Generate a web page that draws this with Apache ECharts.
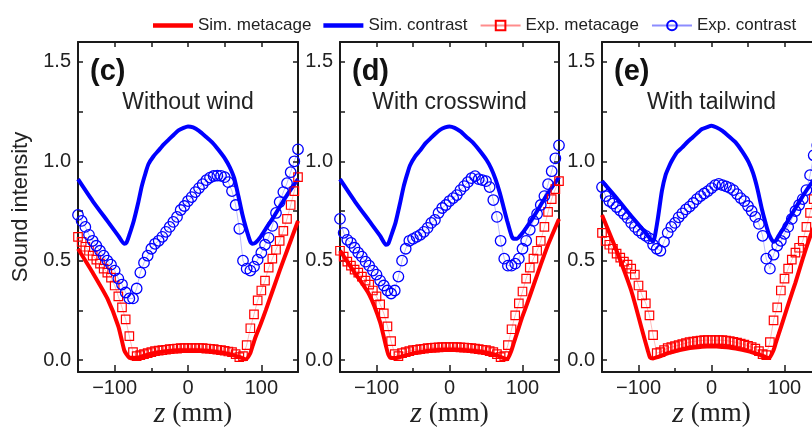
<!DOCTYPE html>
<html>
<head>
<meta charset="utf-8">
<script src="https://cdn.jsdelivr.net/npm/echarts@6/dist/echarts.min.js"></script>
<style>html,body{margin:0;padding:0;background:#fff}#c{width:812px;height:428px}</style>
</head>
<body>
<div id="c"></div>
<script>
// ---- data ----
const panelLetters = ['(c)', '(d)', '(e)'];
const panelTitles = ['Without wind', 'With crosswind', 'With tailwind'];
const seriesNames = ['Sim. metacage', 'Sim. contrast', 'Exp. metacage', 'Exp. contrast'];
const xTickLabels = [-100, 0, 100];
const yTickLabels = [0, 0.5, 1.0, 1.5];

const simZ = [-150,-130,-110,-95,-87,-84,-80,-74,-68,-63,-58,-54,-47,-40,-33,-26,-19,-13,-6,0,7,15,24,33,42,51,57,63,69,74,79,85,88,92,99,106,115,125,135,150];

const simMeta1 = [0.56,0.44,0.31,0.17,0.05,0.03,0.012,0.008,0.012,0.018,0.024,0.028,0.034,0.039,0.043,0.046,0.048,0.05,0.05,0.05,0.05,0.049,0.047,0.044,0.04,0.035,0.03,0.024,0.017,0.01,0.004,0.035,0.07,0.115,0.18,0.25,0.345,0.45,0.55,0.70];
const simCon1 = [0.91,0.80,0.70,0.625,0.585,0.59,0.63,0.70,0.79,0.875,0.94,0.985,1.025,1.055,1.085,1.11,1.135,1.155,1.168,1.175,1.17,1.153,1.125,1.095,1.055,1.01,0.97,0.915,0.82,0.735,0.665,0.595,0.585,0.59,0.62,0.66,0.71,0.77,0.83,0.91];
const simMeta2 = [0.55,0.44,0.33,0.19,0.07,0.03,0.01,0.01,0.015,0.02,0.026,0.03,0.036,0.041,0.045,0.048,0.05,0.052,0.053,0.053,0.053,0.052,0.05,0.047,0.043,0.037,0.032,0.026,0.018,0.01,0.004,0.05,0.085,0.13,0.21,0.28,0.375,0.48,0.58,0.71];
const simCon2 = [0.91,0.80,0.70,0.625,0.58,0.585,0.625,0.69,0.785,0.87,0.935,0.98,1.025,1.055,1.09,1.115,1.14,1.158,1.17,1.175,1.168,1.15,1.12,1.09,1.05,1.005,0.965,0.91,0.84,0.77,0.70,0.625,0.61,0.61,0.635,0.67,0.72,0.78,0.84,0.92];
const simMeta3 = [0.73,0.55,0.35,0.15,0.045,0.012,0.008,0.015,0.022,0.03,0.036,0.04,0.047,0.053,0.058,0.062,0.065,0.067,0.068,0.068,0.068,0.066,0.063,0.058,0.052,0.044,0.037,0.03,0.022,0.015,0.01,0.05,0.085,0.13,0.21,0.29,0.39,0.51,0.62,0.76];
const simCon3 = [0.90,0.815,0.725,0.66,0.625,0.61,0.595,0.70,0.85,0.93,0.975,1.005,1.046,1.07,1.097,1.12,1.143,1.162,1.172,1.179,1.17,1.153,1.125,1.095,1.05,0.995,0.94,0.86,0.76,0.69,0.63,0.595,0.6,0.625,0.665,0.71,0.765,0.825,0.88,0.95];

const expZ = [-150,-145,-140,-135,-130,-125,-120,-115,-110,-105,-100,-95,-90,-85,-80,-75,-70,-65,-60,-55,-50,-45,-40,-35,-30,-25,-20,-15,-10,-5,0,5,10,15,20,25,30,35,40,45,50,55,60,65,70,75,80,85,90,95,100,105,110,115,120,125,130,135,140,145,150];

const expMeta1 = [0.62,0.595,0.57,0.55,0.525,0.505,0.485,0.46,0.44,0.415,0.375,0.32,0.265,0.205,0.12,0.04,0.02,0.025,0.03,0.035,0.04,0.045,0.048,0.05,0.052,0.055,0.057,0.058,0.06,0.06,0.06,0.06,0.06,0.06,0.06,0.058,0.057,0.055,0.052,0.05,0.047,0.043,0.04,0.03,0.015,0.02,0.075,0.16,0.23,0.30,0.35,0.40,0.465,0.51,0.555,0.60,0.65,0.71,0.78,0.85,0.92];
const expCon1 = [0.73,0.70,0.67,0.63,0.60,0.575,0.55,0.525,0.50,0.48,0.45,0.41,0.38,0.34,0.31,0.31,0.36,0.44,0.49,0.525,0.56,0.585,0.60,0.62,0.645,0.67,0.695,0.72,0.755,0.775,0.80,0.82,0.845,0.865,0.885,0.905,0.918,0.926,0.928,0.927,0.92,0.895,0.85,0.78,0.66,0.50,0.46,0.45,0.47,0.505,0.54,0.58,0.615,0.675,0.74,0.795,0.845,0.89,0.945,1.00,1.06];
const expMeta2 = [0.55,0.52,0.495,0.475,0.455,0.44,0.42,0.40,0.38,0.35,0.32,0.28,0.235,0.17,0.095,0.03,0.02,0.035,0.04,0.045,0.05,0.052,0.055,0.057,0.06,0.062,0.063,0.064,0.065,0.065,0.065,0.065,0.065,0.064,0.063,0.062,0.06,0.058,0.055,0.052,0.05,0.045,0.04,0.03,0.015,0.02,0.075,0.155,0.225,0.285,0.345,0.41,0.465,0.51,0.55,0.60,0.67,0.745,0.81,0.86,0.90];
const expCon2 = [0.71,0.64,0.605,0.59,0.565,0.54,0.52,0.495,0.475,0.45,0.43,0.40,0.375,0.35,0.335,0.35,0.42,0.50,0.56,0.60,0.61,0.62,0.63,0.645,0.665,0.69,0.705,0.74,0.765,0.78,0.80,0.815,0.83,0.855,0.875,0.895,0.915,0.925,0.91,0.905,0.90,0.87,0.805,0.72,0.60,0.51,0.475,0.475,0.485,0.51,0.56,0.60,0.655,0.70,0.735,0.78,0.825,0.885,0.95,1.015,1.08];
const expMeta3 = [0.64,0.60,0.58,0.56,0.535,0.515,0.495,0.48,0.46,0.43,0.375,0.325,0.285,0.225,0.125,0.035,0.04,0.05,0.06,0.065,0.07,0.075,0.08,0.085,0.09,0.093,0.096,0.098,0.10,0.10,0.10,0.10,0.10,0.10,0.098,0.095,0.092,0.088,0.083,0.078,0.072,0.065,0.058,0.045,0.03,0.025,0.09,0.20,0.265,0.35,0.41,0.46,0.505,0.54,0.565,0.60,0.67,0.74,0.81,0.87,0.93];
const expCon3 = [0.87,0.825,0.80,0.787,0.77,0.752,0.735,0.715,0.69,0.67,0.652,0.636,0.625,0.612,0.58,0.56,0.55,0.595,0.64,0.67,0.69,0.718,0.738,0.758,0.772,0.79,0.81,0.825,0.838,0.85,0.865,0.88,0.886,0.88,0.874,0.866,0.855,0.835,0.815,0.80,0.775,0.75,0.72,0.685,0.625,0.51,0.46,0.53,0.575,0.60,0.635,0.67,0.71,0.75,0.78,0.81,0.855,0.93,1.03,1.08,1.12];

const simMeta = [simMeta1, simMeta2, simMeta3];
const simCon = [simCon1, simCon2, simCon3];
const expMeta = [expMeta1, expMeta2, expMeta3];
const expCon = [expCon1, expCon2, expCon3];

// ---- layout ----
const SANS = '"Liberation Sans", Arial, sans-serif';
const SERIF = '"Liberation Serif", "Times New Roman", serif';
const RED = '#ff0000', BLUE = '#0000ff', INK = '#1a1a1a';
const grids = [
  { left: 78, top: 42, width: 220, height: 330, outerBoundsMode: 'none', containLabel: false },
  { left: 340, top: 42, width: 219, height: 330, outerBoundsMode: 'none', containLabel: false },
  { left: 602, top: 42, width: 219, height: 330, outerBoundsMode: 'none', containLabel: false }
];
const YMIN = -0.06, YMAX = 1.6;
const fmtX = v => (v < 0 ? '\u2212' + Math.abs(v) : String(v));
const THICK_ICON = 'path://M0,0 L40,0 L40,4.5 L0,4.5 Z';

const xAxis = [], yAxis = [], series = [], graphic = [];
grids.forEach((g, p) => {
  const axLine = { show: true, onZero: false, lineStyle: { color: INK, width: 2 } };
  // bottom main
  xAxis.push({
    type: 'value', gridIndex: p, position: 'bottom', min: -150, max: 150,
    axisLine: axLine, splitLine: { show: false },
    axisTick: { inside: true, length: 7, customValues: xTickLabels, lineStyle: { color: INK, width: 1.5 } },
    axisLabel: { customValues: xTickLabels, formatter: fmtX, fontSize: 20, color: '#222', fontFamily: SANS, margin: 6 },
    name: '{i|z}{n| (mm)}', nameLocation: 'middle', nameGap: 27, nameMoveOverlap: false,
    nameTextStyle: {
      padding: p === 0 ? [0, 0, 0, 10] : 0,
      rich: {
        i: { fontFamily: SERIF, fontStyle: 'italic', fontSize: 30, color: '#222' },
        n: { fontFamily: SERIF, fontSize: 27, color: '#222' }
      }
    }
  });
  // bottom minor ticks
  xAxis.push({
    type: 'value', gridIndex: p, position: 'bottom', min: -150, max: 150,
    axisLine: { show: false, onZero: false }, splitLine: { show: false }, axisLabel: { show: false },
    axisTick: { inside: true, length: 4, customValues: [-50, 50], lineStyle: { color: INK, width: 1.5 } }
  });
  // top border
  xAxis.push({
    type: 'value', gridIndex: p, position: 'top', min: -150, max: 150,
    axisLine: axLine, splitLine: { show: false }, axisLabel: { show: false },
    axisTick: { inside: true, length: 5, customValues: [-100, -50, 0, 50, 100], lineStyle: { color: INK, width: 1.5 } }
  });
  // left y
  yAxis.push({
    type: 'value', gridIndex: p, position: 'left', min: YMIN, max: YMAX,
    axisLine: axLine, splitLine: { show: false },
    axisTick: { inside: true, length: 5, customValues: [0, 0.25, 0.5, 0.75, 1, 1.25, 1.5], lineStyle: { color: INK, width: 1.5 } },
    axisLabel: { customValues: yTickLabels, formatter: v => v.toFixed(1), fontSize: 20, color: '#222', fontFamily: SANS, margin: 7 },
    name: p === 0 ? 'Sound intensity' : '', nameLocation: 'middle', nameGap: 46, nameRotate: 90,
    nameTextStyle: { fontSize: 22, color: '#222', fontFamily: SANS }
  });
  // right y
  yAxis.push({
    type: 'value', gridIndex: p, position: 'right', min: YMIN, max: YMAX,
    axisLine: axLine, splitLine: { show: false }, axisLabel: { show: false },
    axisTick: { inside: true, length: 5, customValues: [0, 0.25, 0.5, 0.75, 1, 1.25, 1.5], lineStyle: { color: INK, width: 1.5 } }
  });

  const xi = 3 * p, yi = 2 * p;
  series.push({
    type: 'line', name: seriesNames[0], xAxisIndex: xi, yAxisIndex: yi,
    data: simZ.map((z, i) => [z, simMeta[p][i]]), symbol: 'none', showSymbol: false,
    color: RED, lineStyle: { width: 4, color: RED }, smooth: 0.2, z: 2
  });
  series.push({
    type: 'line', name: seriesNames[1], xAxisIndex: xi, yAxisIndex: yi,
    data: simZ.map((z, i) => [z, simCon[p][i]]), symbol: 'none', showSymbol: false,
    color: BLUE, lineStyle: { width: 4, color: BLUE }, smooth: 0.2, z: 2
  });
  series.push({
    type: 'line', name: seriesNames[2], xAxisIndex: xi, yAxisIndex: yi,
    data: expZ.map((z, i) => [z, expMeta[p][i]]), symbol: 'rect', symbolSize: 8.5,
    color: RED,
    itemStyle: { color: 'rgba(255,255,255,0)', borderColor: RED, borderWidth: 1.2 },
    lineStyle: { width: 0.6, color: RED, opacity: 0.45 }, z: 3
  });
  series.push({
    type: 'line', name: seriesNames[3], xAxisIndex: xi, yAxisIndex: yi,
    data: expZ.map((z, i) => [z, expCon[p][i]]), symbol: 'circle', symbolSize: 10.5,
    color: BLUE,
    itemStyle: { color: 'rgba(255,255,255,0)', borderColor: BLUE, borderWidth: 1.3 },
    lineStyle: { width: 0.6, color: BLUE, opacity: 0.45 }, z: 4
  });

  const cx = g.left + g.width / 2;
  graphic.push({
    type: 'text', left: g.left + 12, top: 57, z: 10,
    style: { text: panelLetters[p], font: 'bold 29px ' + SANS, fill: '#111' }
  });
  graphic.push({
    type: 'text', x: cx, y: 103, z: 10,
    style: { text: panelTitles[p], font: '23px ' + SANS, fill: '#222', align: 'center', verticalAlign: 'middle' }
  });
});

const chart = echarts.init(document.getElementById('c'), null, { renderer: 'canvas' });
chart.setOption({
  animation: false,
  backgroundColor: '#fff',
  textStyle: { fontFamily: SANS },
  legend: {
    left: 148, top: 12, itemWidth: 40, itemHeight: 12, itemGap: 12,
    textStyle: { fontSize: 17, color: '#222', fontFamily: SANS },
    data: [
      { name: seriesNames[0], icon: THICK_ICON, itemStyle: { color: RED } },
      { name: seriesNames[1], icon: THICK_ICON, itemStyle: { color: BLUE } },
      { name: seriesNames[2] },
      { name: seriesNames[3] }
    ]
  },
  grid: grids,
  xAxis: xAxis,
  yAxis: yAxis,
  series: series,
  graphic: graphic
});
</script>
</body>
</html>
